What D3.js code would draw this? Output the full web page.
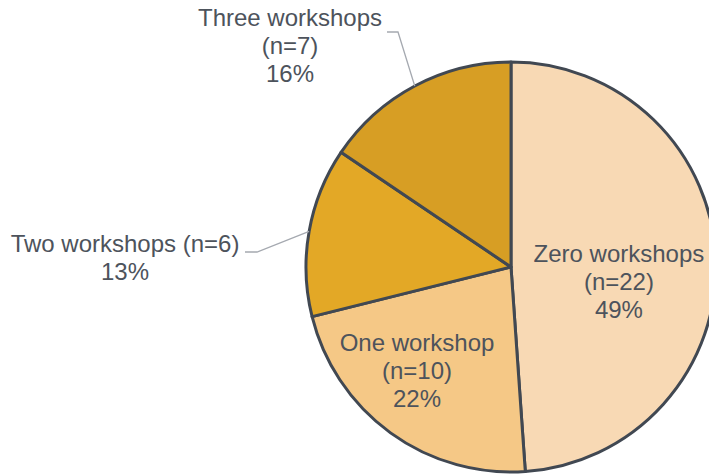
<!DOCTYPE html>
<html><head><meta charset="utf-8">
<script src="https://cdn.jsdelivr.net/npm/d3@7"></script>
<style>body{margin:0;background:#fff}svg{display:block}</style>
</head><body>
<svg id="chart" width="709" height="476"></svg>
<script>
const categories = ["Zero workshops", "One workshop", "Two workshops", "Three workshops"];
const counts = [22, 10, 6, 7];
const percents = ["49%", "22%", "13%", "16%"];
const colors = ["#F8D9B4", "#F5C886", "#E3A826", "#D79E24"];

const W = 709, H = 476;
const cx = 511, cy = 267, R = 205;
const svg = d3.select("#chart");
const g = svg.append("g").attr("transform", `translate(${cx},${cy})`);

const data = categories.map((c, i) => ({cat: c, n: counts[i], pct: percents[i], color: colors[i]}));
const pie = d3.pie().value(d => d.n).sort(null);
const arcs = pie(data);
const arc = d3.arc().innerRadius(0).outerRadius(R);

g.selectAll("path.slice").data(arcs).enter().append("path")
  .attr("class", "slice")
  .attr("d", arc)
  .attr("fill", d => d.data.color)
  .attr("stroke", "#414852")
  .attr("stroke-width", 3)
  .attr("stroke-linejoin", "round");

const fs = 24, lh = 27.8, txtColor = "#4D535C";
// label layout: inside labels offset from centroid, outside labels with leader lines
const layout = [
  {inside: true, lines: d => [d.data.cat, `(n=${d.data.n})`, d.data.pct], r: 108, dx: 0, dy: -1},
  {inside: true, lines: d => [d.data.cat, `(n=${d.data.n})`, d.data.pct], r: 140, dx: -11.7, dy: -29.3},
  {inside: false, lines: d => [`${d.data.cat} (n=${d.data.n})`, d.data.pct], tx: -386, ty: -15, lead: [[-254, -15], [-266, -15]]},
  {inside: false, lines: d => [d.data.cat, `(n=${d.data.n})`, d.data.pct], tx: -221, ty: -241, lead: [[-113, -235], [-124, -235]]}
];

arcs.forEach((d, i) => {
  const L = layout[i];
  const lines = L.lines(d);
  let x, y0;
  if (L.inside) {
    const c = d3.arc().innerRadius(L.r).outerRadius(L.r).centroid(d);
    x = c[0] + L.dx;
    y0 = c[1] + L.dy; // first line baseline
  } else {
    x = L.tx;
    y0 = L.ty;
    const mid = (d.startAngle + d.endAngle) / 2;
    const p0 = [R * Math.sin(mid), -R * Math.cos(mid)];
    g.append("polyline")
      .attr("points", [p0, L.lead[0], L.lead[1]].map(p => p.join(",")).join(" "))
      .attr("fill", "none")
      .attr("stroke", "#A5A9B0")
      .attr("stroke-width", 1.3);
  }
  const t = g.append("text")
    .attr("text-anchor", "middle")
    .attr("font-family", "Liberation Sans, Arial, sans-serif")
    .attr("font-size", fs)
    .attr("fill", txtColor);
  lines.forEach((s, k) => {
    t.append("tspan").attr("x", x).attr("y", y0 + k * lh).text(s);
  });
});
</script>
</body></html>
